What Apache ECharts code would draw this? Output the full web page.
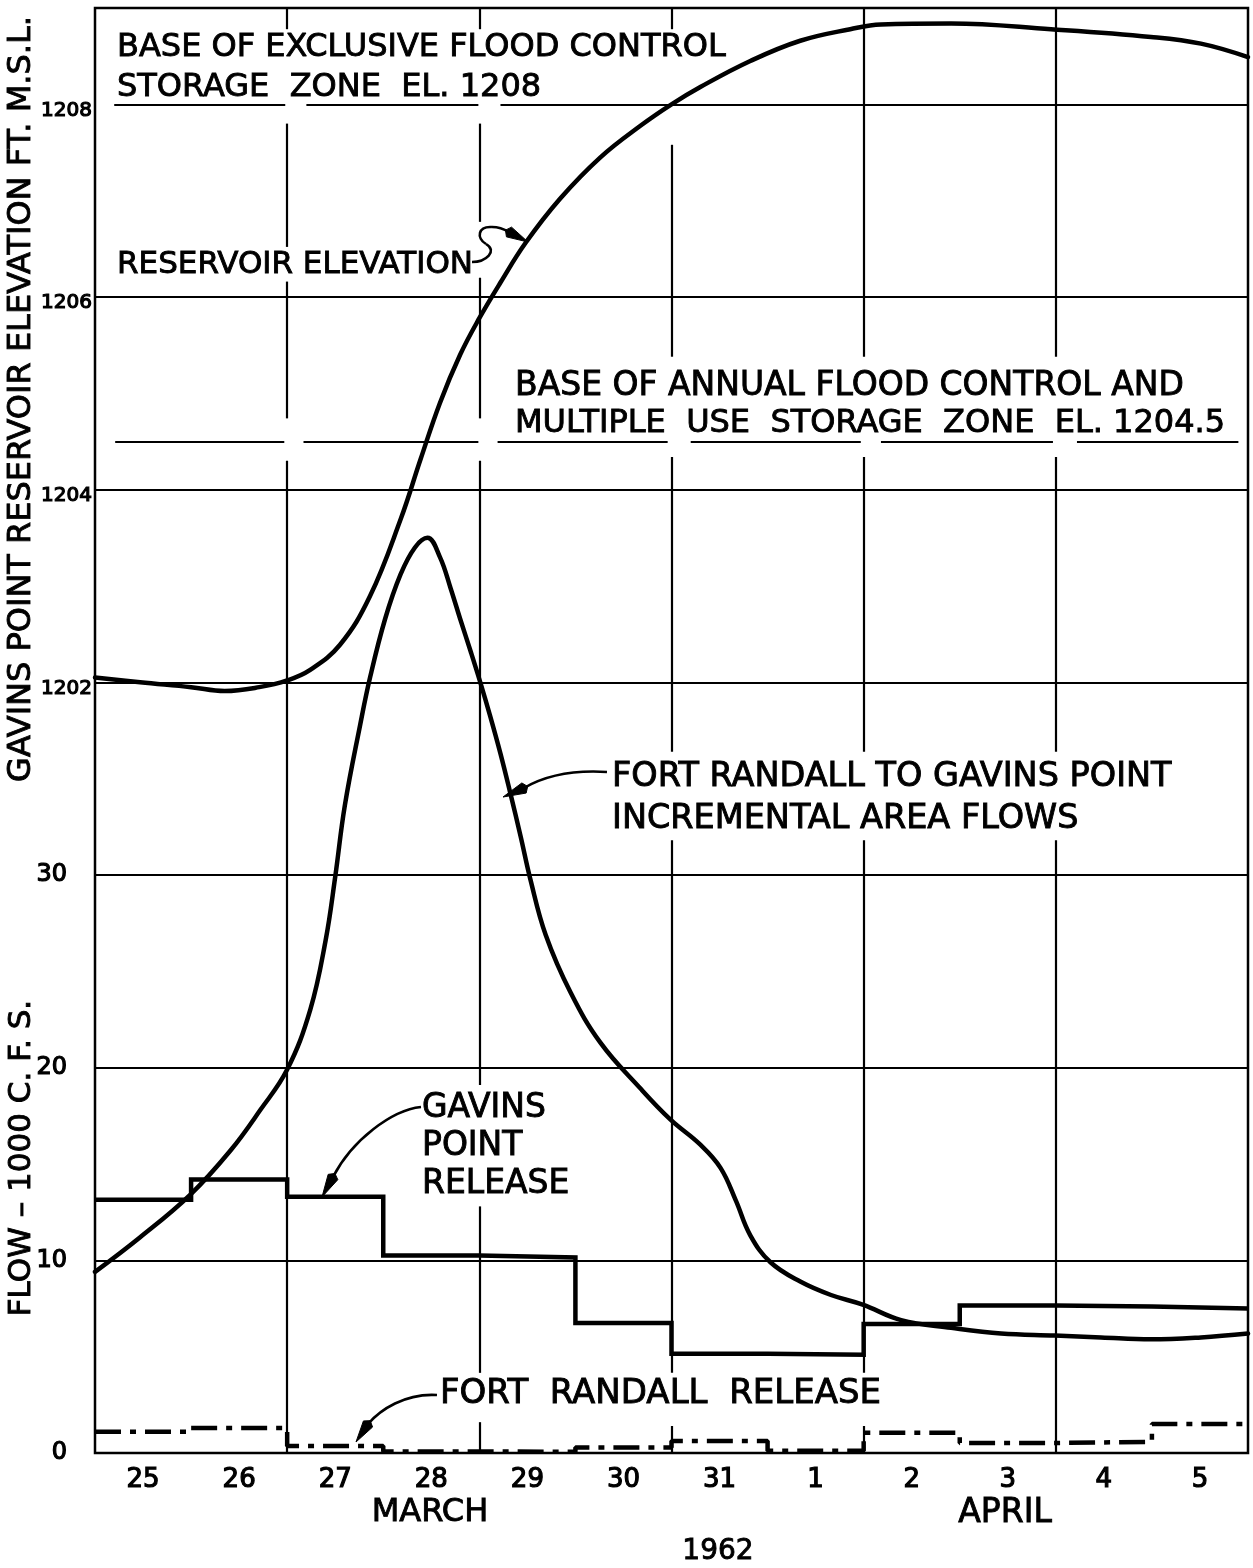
<!DOCTYPE html>
<html>
<head>
<meta charset="utf-8">
<title>Gavins Point Reservoir — March/April 1962</title>
<script src="https://cdn.jsdelivr.net/npm/echarts@6/dist/echarts.min.js"></script>
<style>
  html, body { margin: 0; padding: 0; background: #fff; }
  #chart { width: 1253px; height: 1568px; }
</style>
</head>
<body>
<div id="chart"></div>
<script>
// ---- Data -------------------------------------------------------------
// x is measured in days from the start of 25 March 1962 (day 0 .. 12).
const dayLabels = ['25', '26', '27', '28', '29', '30', '31', '1', '2', '3', '4', '5'];

// Gavins Point reservoir elevation, ft m.s.l.
const elevDays = [0, 0.47, 1.0, 1.35, 1.71, 2.0, 2.24, 2.55, 2.86, 3.18, 3.39, 3.59, 3.8, 4.0,
                  4.22, 4.48, 4.84, 5.26, 5.68, 6.0, 6.3, 6.82, 7.34, 7.86, 8.18, 8.91, 9.95, 10.99, 11.51, 12.0];
const elevFt = [1202.05, 1202.0, 1201.95, 1201.91, 1201.95, 1202.02, 1202.13, 1202.39, 1202.89, 1203.69,
                1204.32, 1204.9, 1205.4, 1205.78, 1206.15, 1206.56, 1207.02, 1207.45, 1207.78, 1208.0,
                1208.18, 1208.45, 1208.66, 1208.78, 1208.83, 1208.84, 1208.78, 1208.7, 1208.63, 1208.49];

// Fort Randall to Gavins Point incremental area flows, 1000 c.f.s.
const flowDays = [0, 0.47, 0.99, 1.41, 1.72, 2.0, 2.24, 2.4, 2.5, 2.6, 2.76, 2.865, 3.02, 3.18, 3.33, 3.46,
                  3.59, 3.7, 3.8, 3.91, 4.01, 4.11, 4.22, 4.32, 4.43, 4.53, 4.69, 4.95, 5.26, 5.68, 5.99,
                  6.3, 6.51, 6.67, 6.82, 7.03, 7.34, 7.66, 7.99, 8.39, 8.91, 9.43, 9.99, 10.47, 10.99, 11.51, 12];
const flowKcfs = [9.4, 11.2, 13.4, 15.7, 17.8, 19.9, 23.0, 26.6, 29.9, 33.6, 37.8, 40.3, 43.3, 45.6, 47.0, 47.5,
                  46.5, 44.9, 43.3, 41.6, 40.0, 38.3, 36.3, 34.3, 32.0, 29.8, 26.9, 23.9, 21.3, 18.9, 17.3,
                  16.0, 14.8, 13.1, 11.3, 9.9, 8.9, 8.2, 7.7, 6.9, 6.5, 6.2, 6.1, 6.0, 5.9, 6.0, 6.2];

// Daily mean releases, 1000 c.f.s. (one value per day, 25 Mar .. 5 Apr)
const gavinsRelease = [13.15, 14.2, 13.3, 10.25, 10.15, 6.75, 5.15, 5.1, 6.7, 7.65, 7.6, 7.5];
const fortRandallRelease = [1.1, 1.3, 0.36, 0.08, 0.06, 0.28, 0.62, 0.12, 1.05, 0.52, 0.58, 1.5];

// Elevation is plotted on the same vertical scale as flow: 1202 ft sits at 40, 2 ft per 10 units.
const ELEV_BASE = 1202, ELEV_AT = 40, UNITS_PER_FT = 5;
const elevToUnits = e => ELEV_AT + (e - ELEV_BASE) * UNITS_PER_FT;

const pairs = (xs, ys, f) => xs.map((x, i) => [x, f ? f(ys[i]) : ys[i]]);
const daily = vals => vals.map((v, i) => [i, v]).concat([[vals.length, vals[vals.length - 1]]]);

// ---- Hand-drafted grid: lines are broken where the lettering sits -----
const Y_TOP = 75;
const verticalRuns = {
  2:  [[0, 51.5], [53.7, 60.8], [62.6, 69.0], [73.9, Y_TOP]],
  4:  [[0, 1.6], [4.16, 12.8], [19.1, 51.5], [53.7, 61.0], [63.9, 69.0], [73.9, Y_TOP]],
  6:  [[0, 1.4], [4.16, 31.8], [36.4, 51.7], [56.9, 67.9], [73.9, Y_TOP]],
  8:  [[0, 1.4], [4.16, 31.8], [36.4, 51.7], [56.9, Y_TOP]],
  10: [[0, 31.8], [36.4, 51.7], [56.9, Y_TOP]]
};
const horizontalRuns = {
  10: [[0, 12]], 20: [[0, 12]], 30: [[0, 12]], 40: [[0, 12]], 50: [[0, 12]], 60: [[0, 12]],
  70: [[0.2, 1.98], [2.2, 3.99], [4.22, 12]]
};
// Base of annual flood control and multiple use storage zone, el. 1204.5
const zoneRuns = [[0.21, 1.97], [2.17, 3.99], [4.19, 5.96], [6.2, 7.97], [8.18, 9.97], [10.22, 11.9]];

const gridSegments = [];
Object.keys(verticalRuns).forEach(k => verticalRuns[k].forEach(r =>
  gridSegments.push([{ coord: [+k, r[0]] }, { coord: [+k, r[1]] }])));
Object.keys(horizontalRuns).forEach(k => horizontalRuns[k].forEach(r =>
  gridSegments.push([{ coord: [r[0], +k] }, { coord: [r[1], +k] }])));
zoneRuns.forEach(r => {
  const y = elevToUnits(1204.5);
  gridSegments.push([{ coord: [r[0], y] }, { coord: [r[1], y] }]);
});

// ---- Chart -------------------------------------------------------------
const FONT = '"DejaVu Sans", "Liberation Sans", sans-serif';
const chart = echarts.init(document.getElementById('chart'), null, { renderer: 'canvas' });

const ink = '#000';
const curveStyle = { color: ink, width: 4.5, cap: 'round', join: 'round' };
const digitStyle = { fontFamily: FONT, color: ink, textBorderColor: ink, textBorderWidth: 1.2 };

const option = {
  animation: false,
  backgroundColor: '#fff',
  grid: { left: 95, right: 5, top: 8, bottom: 115, show: true, borderColor: ink, borderWidth: 2.5, backgroundColor: '#fff' },
  xAxis: [
    { type: 'value', min: 0, max: 12, interval: 2, show: false },
    {
      type: 'category', data: dayLabels, boundaryGap: true, position: 'bottom',
      axisLine: { show: false }, axisTick: { show: false }, splitLine: { show: false },
      axisLabel: Object.assign({ margin: 14, fontSize: 26 }, digitStyle)
    }
  ],
  yAxis: {
    type: 'value', min: 0, max: Y_TOP, interval: 10,
    axisLine: { show: false }, axisTick: { show: false }, splitLine: { show: false },
    axisLabel: Object.assign({
      margin: 3, showMaxLabel: false, fontSize: 22,
      formatter: v => v >= Y_TOP ? '' : (v <= 30 ? '{f|' + v + '}' : '{e|' + (ELEV_BASE + (v - ELEV_AT) / UNITS_PER_FT) + '}'),
      rich: {
        f: Object.assign({ fontSize: 24, padding: [0, 25, 0, 0] }, digitStyle),
        e: Object.assign({ fontSize: 20, padding: [12, 0, 0, 0] }, digitStyle)
      }
    }, digitStyle)
  },
  series: [
    {
      name: 'grid', type: 'line', xAxisIndex: 0, data: [[0, 0]], showSymbol: false, silent: true,
      lineStyle: { width: 0 },
      markLine: {
        silent: true, symbol: ['none', 'none'], label: { show: false },
        lineStyle: { color: ink, width: 2.2, type: 'solid' },
        emphasis: { disabled: true },
        data: gridSegments
      }
    },
    {
      name: 'Reservoir elevation', type: 'line', xAxisIndex: 0, smooth: 0.4, showSymbol: false,
      data: pairs(elevDays, elevFt, elevToUnits), lineStyle: curveStyle
    },
    {
      name: 'Fort Randall to Gavins Point incremental area flows', type: 'line', xAxisIndex: 0,
      smooth: 0.4, showSymbol: false, data: pairs(flowDays, flowKcfs), lineStyle: curveStyle
    },
    {
      name: 'Gavins Point release', type: 'line', xAxisIndex: 0, step: 'end', showSymbol: false,
      data: daily(gavinsRelease), lineStyle: { color: ink, width: 4.5, join: 'miter' }
    },
    {
      name: 'Fort Randall release', type: 'line', xAxisIndex: 0, step: 'end', showSymbol: false,
      data: daily(fortRandallRelease),
      lineStyle: { color: ink, width: 4.5, type: [26, 9, 6, 9], cap: 'butt' }
    }
  ]
};
chart.setOption(option);

// ---- Lettering and leader arrows --------------------------------------
function label(text, x, y, size, align) {
  return {
    type: 'text', x: x, y: y, silent: true, z: 10,
    style: {
      text: text, fill: ink, stroke: ink, lineWidth: 0.9,
      font: size + 'px ' + FONT, align: align || 'left', verticalAlign: 'middle'
    }
  };
}
function vlabel(text, x, y, size) {
  const el = label(text, x, y, size, 'center');
  el.rotation = Math.PI / 2;
  return el;
}
function curve(start, c1, c2, end) {
  return {
    type: 'bezierCurve', silent: true, z: 10,
    shape: { x1: start[0], y1: start[1], cpx1: c1[0], cpy1: c1[1], cpx2: c2[0], cpy2: c2[1], x2: end[0], y2: end[1] },
    style: { stroke: ink, lineWidth: 2.6, fill: null }
  };
}
function arrowhead(base, tip) {
  const dx = tip[0] - base[0], dy = tip[1] - base[1];
  const len = Math.hypot(dx, dy), ux = dx / len, uy = dy / len;
  const w = 5.5;
  return {
    type: 'polygon', silent: true, z: 10,
    shape: { points: [tip, [base[0] - uy * w, base[1] + ux * w], [base[0] - ux * 4, base[1] - uy * 4], [base[0] + uy * w, base[1] - ux * w]] },
    style: { fill: ink, stroke: ink, lineWidth: 1 }
  };
}
function leader(start, c1, c2, end, tip) {
  return [curve(start, c1, c2, end), arrowhead(end, tip)];
}

const graphics = [
  label('BASE OF EXCLUSIVE FLOOD CONTROL', 117, 48, 32),
  label('STORAGE  ZONE  EL. 1208', 117, 88, 32),
  label('RESERVOIR ELEVATION', 117, 265, 31),
  label('BASE OF ANNUAL FLOOD CONTROL AND', 515, 386, 33),
  label('MULTIPLE  USE  STORAGE  ZONE  EL. 1204.5', 515, 424, 32),
  label('FORT RANDALL TO GAVINS POINT', 612, 777, 33.5),
  label('INCREMENTAL AREA FLOWS', 612, 819, 33.5),
  label('GAVINS', 422, 1108, 33),
  label('POINT', 422, 1146, 33),
  label('RELEASE', 422, 1184, 33),
  label('FORT  RANDALL  RELEASE', 440, 1394, 34),
  label('MARCH', 430, 1513, 32, 'center'),
  label('APRIL', 1005, 1513, 33, 'center'),
  label('1962', 718, 1552, 28, 'center'),
  vlabel('GAVINS POINT RESERVOIR ELEVATION FT. M.S.L.', 22, 399, 32),
  vlabel('FLOW \u2013 1000 C. F. S.', 22, 1158, 31),
  // S-shaped leader for the reservoir elevation curve
  curve([472, 262], [486, 262], [498, 251], [486, 244]),
  curve([486, 244], [476, 238], [478, 226], [492, 227]),
  curve([492, 227], [499, 227], [504, 229], [509, 232])
].concat(
  [arrowhead([509, 232], [528, 242])],
  leader([607, 772], [575, 770], [548, 774], [524, 788], [503, 797]),
  leader([421, 1107], [392, 1110], [352, 1140], [333, 1177], [322, 1197]),
  leader([437, 1395], [405, 1393], [380, 1410], [368, 1424], [356, 1442])
);
chart.setOption({ graphic: { elements: graphics } });
</script>
</body>
</html>
